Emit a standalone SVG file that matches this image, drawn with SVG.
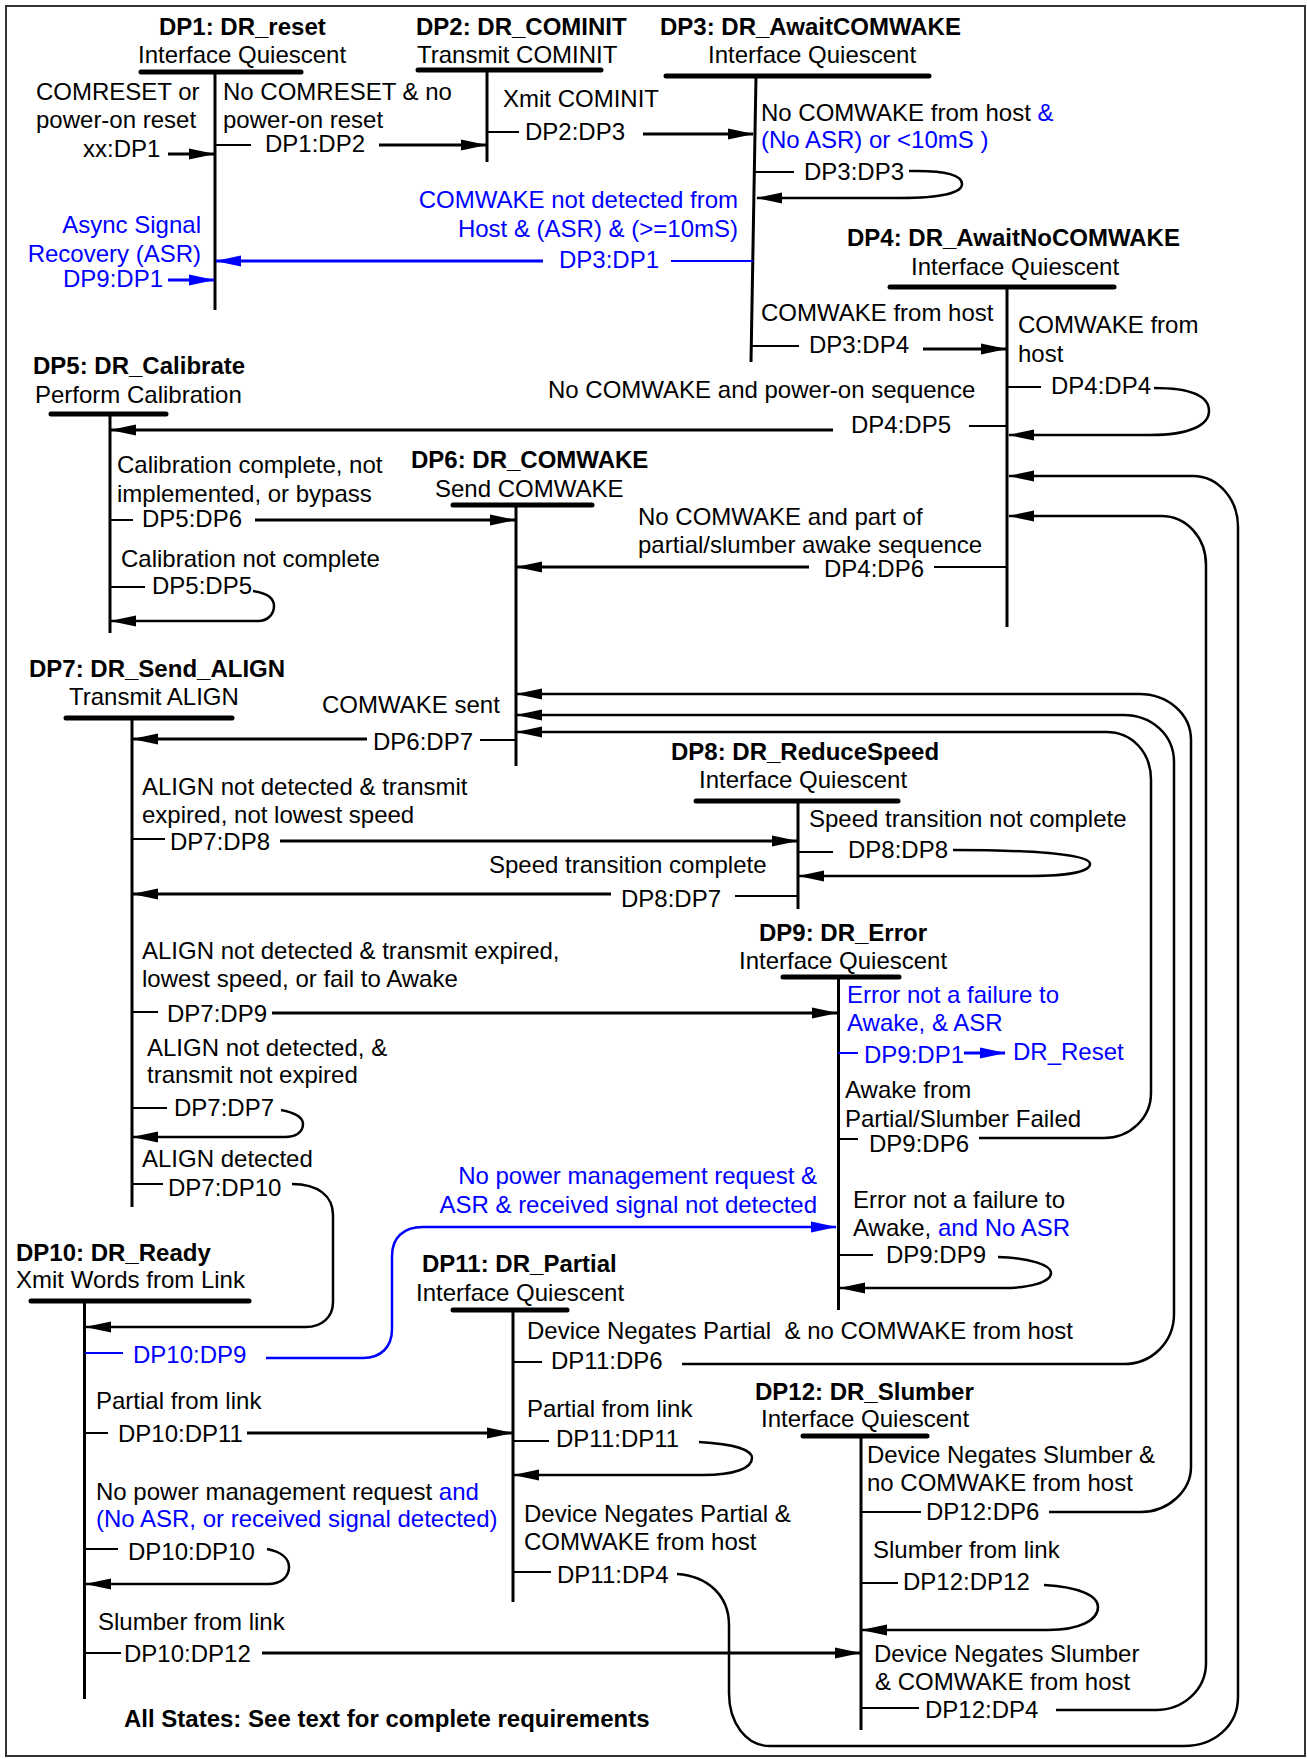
<svg xmlns="http://www.w3.org/2000/svg" width="1307" height="1759" viewBox="0 0 1307 1759">
<style>
  text { font-family: "Liberation Sans", Arial, Helvetica, sans-serif; font-size: 24px; fill: #000; }
  .b { font-weight: bold; }
  .blue { fill: #0000ff; }
  .e { text-anchor: end; }
  .pre { white-space: pre; }
  .bar { stroke: #000; stroke-width: 5; stroke-linecap: round; }
  .sl { stroke: #000; stroke-width: 3; fill: none; }
  .c { stroke: #000; stroke-width: 3; fill: none; }
  .cl { stroke: #000; stroke-width: 2.5; fill: none; }
  .tk { stroke: #000; stroke-width: 2; fill: none; }
  .cb { stroke: #0000ff; stroke-width: 3; fill: none; }
  .tb { stroke: #0000ff; stroke-width: 2; fill: none; }
</style>
<defs>
  <marker id="ah" markerWidth="26" markerHeight="12" refX="25" refY="6" orient="auto" markerUnits="userSpaceOnUse">
    <path d="M0,0.5 L26,6 L0,11.5 z" fill="#000"/>
  </marker>
  <marker id="ahb" markerWidth="26" markerHeight="12" refX="25" refY="6" orient="auto" markerUnits="userSpaceOnUse">
    <path d="M0,0.5 L26,6 L0,11.5 z" fill="#0000ff"/>
  </marker>
</defs>

<rect x="6" y="6" width="1299" height="1750" fill="#fff" stroke="#333" stroke-width="2"/>

<!-- state nodes: title, action, bar and life line -->
<g id="dp1">
  <text class="b" x="159" y="35">DP1: DR_reset</text>
  <text x="138" y="63">Interface Quiescent</text>
  <line class="bar" x1="141" y1="72" x2="301" y2="72"/>
  <line class="sl" x1="215" y1="72" x2="215" y2="310"/>
</g>
<g id="dp2">
  <text class="b" x="416" y="35">DP2: DR_COMINIT</text>
  <text x="417" y="63">Transmit COMINIT</text>
  <line class="bar" x1="418" y1="70" x2="601" y2="70"/>
  <line class="sl" x1="487" y1="70" x2="487" y2="162"/>
</g>
<g id="dp3">
  <text class="b" x="660" y="35">DP3: DR_AwaitCOMWAKE</text>
  <text x="708" y="63">Interface Quiescent</text>
  <line class="bar" x1="666" y1="76" x2="929" y2="76"/>
  <line class="sl" x1="756" y1="76" x2="751" y2="362"/>
</g>
<g id="dp4">
  <text class="b" x="847" y="246">DP4: DR_AwaitNoCOMWAKE</text>
  <text x="911" y="275">Interface Quiescent</text>
  <line class="bar" x1="890" y1="287" x2="1114" y2="287"/>
  <line class="sl" x1="1007" y1="287" x2="1007" y2="627"/>
</g>
<g id="dp5">
  <text class="b" x="33" y="374">DP5: DR_Calibrate</text>
  <text x="35" y="403">Perform Calibration</text>
  <line class="bar" x1="51" y1="414" x2="166" y2="414"/>
  <line class="sl" x1="110" y1="414" x2="110" y2="633"/>
</g>
<g id="dp6">
  <text class="b" x="411" y="468">DP6: DR_COMWAKE</text>
  <text x="435" y="497">Send COMWAKE</text>
  <line class="bar" x1="453" y1="505" x2="592" y2="505"/>
  <line class="sl" x1="516" y1="505" x2="516" y2="766"/>
</g>
<g id="dp7">
  <text class="b" x="29" y="677">DP7: DR_Send_ALIGN</text>
  <text x="69" y="705">Transmit ALIGN</text>
  <line class="bar" x1="66" y1="718" x2="232" y2="718"/>
  <line class="sl" x1="132" y1="718" x2="132" y2="1207"/>
</g>
<g id="dp8">
  <text class="b" x="671" y="760">DP8: DR_ReduceSpeed</text>
  <text x="699" y="788">Interface Quiescent</text>
  <line class="bar" x1="696" y1="801" x2="898" y2="801"/>
  <line class="sl" x1="798" y1="801" x2="798" y2="909"/>
</g>
<g id="dp9">
  <text class="b" x="759" y="941">DP9: DR_Error</text>
  <text x="739" y="969">Interface Quiescent</text>
  <line class="bar" x1="783" y1="977" x2="899" y2="977"/>
  <line class="sl" x1="838.5" y1="977" x2="838.5" y2="1310"/>
</g>
<g id="dp10">
  <text class="b" x="16" y="1261">DP10: DR_Ready</text>
  <text x="16" y="1288">Xmit Words from Link</text>
  <line class="bar" x1="31" y1="1301" x2="249" y2="1301"/>
  <line class="sl" x1="84.5" y1="1301" x2="84.5" y2="1699"/>
</g>
<g id="dp11">
  <text class="b" x="422" y="1272">DP11: DR_Partial</text>
  <text x="416" y="1301">Interface Quiescent</text>
  <line class="bar" x1="453" y1="1310" x2="567" y2="1310"/>
  <line class="sl" x1="513" y1="1310" x2="513" y2="1602"/>
</g>
<g id="dp12">
  <text class="b" x="755" y="1400">DP12: DR_Slumber</text>
  <text x="761" y="1427">Interface Quiescent</text>
  <line class="bar" x1="803" y1="1436" x2="927" y2="1436"/>
  <line class="sl" x1="861" y1="1436" x2="861" y2="1730"/>
</g>

<!-- transitions -->
<g id="connectors">
  <!-- xx:DP1 -->
  <text x="36" y="100">COMRESET or</text>
  <text x="36" y="128">power-on reset</text>
  <text x="83" y="157">xx:DP1</text>
  <line class="c" x1="168" y1="154" x2="214" y2="154" marker-end="url(#ah)"/>

  <!-- DP1:DP2 -->
  <text x="223" y="100">No COMRESET &amp; no</text>
  <text x="223" y="128">power-on reset</text>
  <line class="tk" x1="215" y1="145" x2="251" y2="145"/>
  <text x="265" y="152">DP1:DP2</text>
  <line class="c" x1="379" y1="145" x2="486" y2="145" marker-end="url(#ah)"/>

  <!-- DP2:DP3 -->
  <text x="503" y="107">Xmit COMINIT</text>
  <line class="tk" x1="487" y1="132" x2="519" y2="132"/>
  <text x="525" y="140">DP2:DP3</text>
  <line class="c" x1="643" y1="134" x2="753" y2="134" marker-end="url(#ah)"/>

  <!-- DP3:DP3 -->
  <text x="761" y="121">No COMWAKE from host <tspan class="blue">&amp;</tspan></text>
  <text class="blue" x="761" y="148">(No ASR) or &lt;10mS )</text>
  <line class="tk" x1="755" y1="172" x2="794" y2="172"/>
  <text x="804" y="180">DP3:DP3</text>
  <path class="cl" d="M909,171 C948,170 962,176 962,184 C962,193 940,198 900,198 L757,198" marker-end="url(#ah)"/>

  <!-- DP3:DP1 -->
  <text class="blue e" x="738" y="208">COMWAKE not detected from</text>
  <text class="blue e" x="738" y="237">Host &amp; (ASR) &amp; (&gt;=10mS)</text>
  <line class="tb" x1="753" y1="261" x2="671" y2="261"/>
  <text class="blue" x="559" y="268">DP3:DP1</text>
  <line class="cb" x1="543" y1="261" x2="216" y2="261" marker-end="url(#ahb)"/>

  <!-- DP9:DP1 -->
  <text class="blue e" x="201" y="233">Async Signal</text>
  <text class="blue e" x="201" y="262">Recovery (ASR)</text>
  <text class="blue" x="63" y="287">DP9:DP1</text>
  <line class="cb" x1="168" y1="280" x2="214" y2="280" marker-end="url(#ahb)"/>

  <!-- DP3:DP4 -->
  <text x="761" y="321">COMWAKE from host</text>
  <line class="tk" x1="751" y1="346" x2="799" y2="346"/>
  <text x="809" y="353">DP3:DP4</text>
  <line class="c" x1="923" y1="349" x2="1006" y2="349" marker-end="url(#ah)"/>

  <!-- DP4:DP4 -->
  <text x="1018" y="333">COMWAKE from</text>
  <text x="1018" y="362">host</text>
  <line class="tk" x1="1007" y1="387" x2="1041" y2="387"/>
  <text x="1051" y="394">DP4:DP4</text>
  <path class="cl" d="M1154,388 C1196,388 1209,398 1209,411 C1209,425 1190,435 1150,435 L1009,435" marker-end="url(#ah)"/>

  <!-- DP4:DP5 -->
  <text x="548" y="398">No COMWAKE and power-on sequence</text>
  <line class="tk" x1="1007" y1="426" x2="969" y2="426"/>
  <text x="851" y="433">DP4:DP5</text>
  <line class="c" x1="833" y1="430" x2="111" y2="430" marker-end="url(#ah)"/>

  <!-- DP5:DP6 -->
  <text x="117" y="473">Calibration complete, not</text>
  <text x="117" y="502">implemented, or bypass</text>
  <line class="tk" x1="110" y1="520" x2="133" y2="520"/>
  <text x="142" y="527">DP5:DP6</text>
  <line class="c" x1="255" y1="520" x2="515" y2="520" marker-end="url(#ah)"/>

  <!-- DP5:DP5 -->
  <text x="121" y="567">Calibration not complete</text>
  <line class="tk" x1="110" y1="587" x2="145" y2="587"/>
  <text x="152" y="594">DP5:DP5</text>
  <path class="cl" d="M253,591 C268,593 274,599 274,606 C274,614 268,621 258,621 L111,621" marker-end="url(#ah)"/>

  <!-- DP4:DP6 -->
  <text x="638" y="525">No COMWAKE and part of</text>
  <text x="638" y="553">partial/slumber awake sequence</text>
  <line class="tk" x1="1007" y1="567" x2="934" y2="567"/>
  <text x="824" y="577">DP4:DP6</text>
  <line class="c" x1="809" y1="567" x2="517" y2="567" marker-end="url(#ah)"/>

  <!-- DP6:DP7 -->
  <text x="322" y="713">COMWAKE sent</text>
  <line class="tk" x1="516" y1="740" x2="480" y2="740"/>
  <text x="373" y="750">DP6:DP7</text>
  <line class="c" x1="367" y1="739" x2="133" y2="739" marker-end="url(#ah)"/>

  <!-- DP7:DP8 -->
  <text x="142" y="795">ALIGN not detected &amp; transmit</text>
  <text x="142" y="823">expired, not lowest speed</text>
  <line class="tk" x1="132" y1="839" x2="165" y2="839"/>
  <text x="170" y="850">DP7:DP8</text>
  <line class="c" x1="280" y1="841" x2="797" y2="841" marker-end="url(#ah)"/>

  <!-- DP8:DP8 -->
  <text x="809" y="827">Speed transition not complete</text>
  <line class="tk" x1="798" y1="852" x2="833" y2="852"/>
  <text x="848" y="858">DP8:DP8</text>
  <path class="cl" d="M953,850 C1040,850 1090,855 1090,864 C1090,872 1065,876 1030,876 L799,876" marker-end="url(#ah)"/>

  <!-- DP8:DP7 -->
  <text x="489" y="873">Speed transition complete</text>
  <line class="tk" x1="798" y1="896" x2="735" y2="896"/>
  <text x="621" y="907">DP8:DP7</text>
  <line class="c" x1="611" y1="894" x2="133" y2="894" marker-end="url(#ah)"/>

  <!-- DP7:DP9 -->
  <text x="142" y="959">ALIGN not detected &amp; transmit expired,</text>
  <text x="142" y="987">lowest speed, or fail to Awake</text>
  <line class="tk" x1="132" y1="1012" x2="158" y2="1012"/>
  <text x="167" y="1022">DP7:DP9</text>
  <line class="c" x1="272" y1="1013" x2="837" y2="1013" marker-end="url(#ah)"/>

  <!-- DP7:DP7 -->
  <text x="147" y="1056">ALIGN not detected, &amp;</text>
  <text x="147" y="1083">transmit not expired</text>
  <line class="tk" x1="132" y1="1108" x2="167" y2="1108"/>
  <text x="174" y="1116">DP7:DP7</text>
  <path class="cl" d="M281,1110 C296,1113 303,1118 303,1124 C303,1132 296,1137 285,1137 L133,1137" marker-end="url(#ah)"/>

  <!-- DP7:DP10 -->
  <text x="142" y="1167">ALIGN detected</text>
  <line class="tk" x1="132" y1="1184" x2="163" y2="1184"/>
  <text x="168" y="1196">DP7:DP10</text>
  <path class="cl" d="M292,1184 C318,1184 333,1196 333,1215 L333,1302 C333,1317 322,1327 306,1327 L86,1327" marker-end="url(#ah)"/>

  <!-- DP10:DP9 -->
  <text class="blue e" x="817" y="1184">No power management request &amp;</text>
  <text class="blue e" x="817" y="1213">ASR &amp; received signal not detected</text>
  <line class="tb" x1="85" y1="1353" x2="123" y2="1353"/>
  <text class="blue" x="133" y="1363">DP10:DP9</text>
  <path class="tb" d="M266,1358 L363,1358 C381,1358 392,1347 392,1329 L392,1256 C392,1238 403,1227 423,1227 L836,1227" marker-end="url(#ahb)" style="stroke-width:2.5"/>

  <!-- DP9:DP1 (to DR_Reset) -->
  <text class="blue" x="847" y="1003">Error not a failure to</text>
  <text class="blue" x="847" y="1031">Awake, &amp; ASR</text>
  <line class="tb" x1="838" y1="1053" x2="858" y2="1053"/>
  <text class="blue" x="864" y="1063">DP9:DP1</text>
  <line class="cb" x1="964" y1="1053" x2="1005" y2="1053" marker-end="url(#ahb)"/>
  <text class="blue" x="1013" y="1060">DR_Reset</text>

  <!-- DP9:DP6 -->
  <text x="845" y="1098">Awake from</text>
  <text x="845" y="1127">Partial/Slumber Failed</text>
  <line class="tk" x1="838" y1="1139" x2="858" y2="1139"/>
  <text x="869" y="1152">DP9:DP6</text>
  <path class="cl" d="M979,1138 L1104,1138 C1130,1138 1151,1118 1151,1093 L1151,780 C1151,752 1132,732 1106,732 L517,732" marker-end="url(#ah)"/>

  <!-- DP9:DP9 -->
  <text x="853" y="1208">Error not a failure to</text>
  <text x="853" y="1236">Awake, <tspan class="blue">and No ASR</tspan></text>
  <line class="tk" x1="838" y1="1255" x2="873" y2="1255"/>
  <text x="886" y="1263">DP9:DP9</text>
  <path class="cl" d="M998,1257 C1030,1258 1051,1265 1051,1273 C1051,1282 1030,1288 1004,1288 L840,1288" marker-end="url(#ah)"/>

  <!-- DP11:DP6 -->
  <text class="pre" x="527" y="1339">Device Negates Partial  &amp; no COMWAKE from host</text>
  <line class="tk" x1="513" y1="1362" x2="542" y2="1362"/>
  <text x="551" y="1369">DP11:DP6</text>
  <path class="cl" d="M682,1364 L1124,1364 C1152,1364 1174,1342 1174,1314 L1174,762 C1174,735 1152,715 1123,715 L517,715" marker-end="url(#ah)"/>

  <!-- DP10:DP11 -->
  <text x="96" y="1409">Partial from link</text>
  <line class="tk" x1="85" y1="1433" x2="108" y2="1433"/>
  <text x="118" y="1442">DP10:DP11</text>
  <line class="c" x1="247" y1="1433" x2="512" y2="1433" marker-end="url(#ah)"/>

  <!-- DP11:DP11 -->
  <text x="527" y="1417">Partial from link</text>
  <line class="tk" x1="513" y1="1441" x2="549" y2="1441"/>
  <text x="556" y="1447">DP11:DP11</text>
  <path class="cl" d="M699,1442 C735,1444 752,1450 752,1458 C752,1468 735,1475 703,1475 L514,1475" marker-end="url(#ah)"/>

  <!-- DP10:DP10 -->
  <text x="96" y="1500">No power management request <tspan class="blue">and</tspan></text>
  <text class="blue" x="96" y="1527">(No ASR, or received signal detected)</text>
  <line class="tk" x1="85" y1="1549" x2="118" y2="1549"/>
  <text x="128" y="1560">DP10:DP10</text>
  <path class="cl" d="M267,1549 C282,1552 289,1559 289,1567 C289,1577 281,1584 268,1584 L86,1584" marker-end="url(#ah)"/>

  <!-- DP11:DP4 -->
  <text x="524" y="1522">Device Negates Partial &amp;</text>
  <text x="524" y="1550">COMWAKE from host</text>
  <line class="tk" x1="512" y1="1572" x2="551" y2="1572"/>
  <text x="557" y="1583">DP11:DP4</text>
  <path class="cl" d="M677,1574 C707,1576 729,1595 729,1625 L729,1693 C729,1723 746,1746 770,1746 L1184,1746 C1214,1746 1238,1726 1238,1697 L1238,527 C1238,499 1218,476 1193,476 L1009,476" marker-end="url(#ah)"/>

  <!-- DP10:DP12 -->
  <text x="98" y="1630">Slumber from link</text>
  <line class="tk" x1="85" y1="1653" x2="121" y2="1653"/>
  <text x="124" y="1662">DP10:DP12</text>
  <line class="c" x1="262" y1="1653" x2="860" y2="1653" marker-end="url(#ah)"/>

  <!-- DP12:DP6 -->
  <text x="867" y="1463">Device Negates Slumber &amp;</text>
  <text x="867" y="1491">no COMWAKE from host</text>
  <line class="tk" x1="861" y1="1512" x2="921" y2="1512"/>
  <text x="926" y="1520">DP12:DP6</text>
  <path class="cl" d="M1049,1512 L1141,1512 C1168,1512 1191,1491 1191,1467 L1191,740 C1191,714 1168,694 1139,694 L517,694" marker-end="url(#ah)"/>

  <!-- DP12:DP12 -->
  <text x="873" y="1558">Slumber from link</text>
  <line class="tk" x1="861" y1="1583" x2="898" y2="1583"/>
  <text x="903" y="1590">DP12:DP12</text>
  <path class="cl" d="M1044,1585 C1080,1587 1098,1596 1098,1607 C1098,1620 1080,1630 1048,1630 L862,1630" marker-end="url(#ah)"/>

  <!-- DP12:DP4 -->
  <text x="874" y="1662">Device Negates Slumber</text>
  <text x="875" y="1690">&amp; COMWAKE from host</text>
  <line class="tk" x1="861" y1="1708" x2="919" y2="1708"/>
  <text x="925" y="1718">DP12:DP4</text>
  <path class="cl" d="M1056,1710 L1156,1710 C1183,1710 1206,1690 1206,1663 L1206,565 C1206,538 1187,516 1161,516 L1009,516" marker-end="url(#ah)"/>
</g>

<text class="b" x="124" y="1727">All States: See text for complete requirements</text>
</svg>
